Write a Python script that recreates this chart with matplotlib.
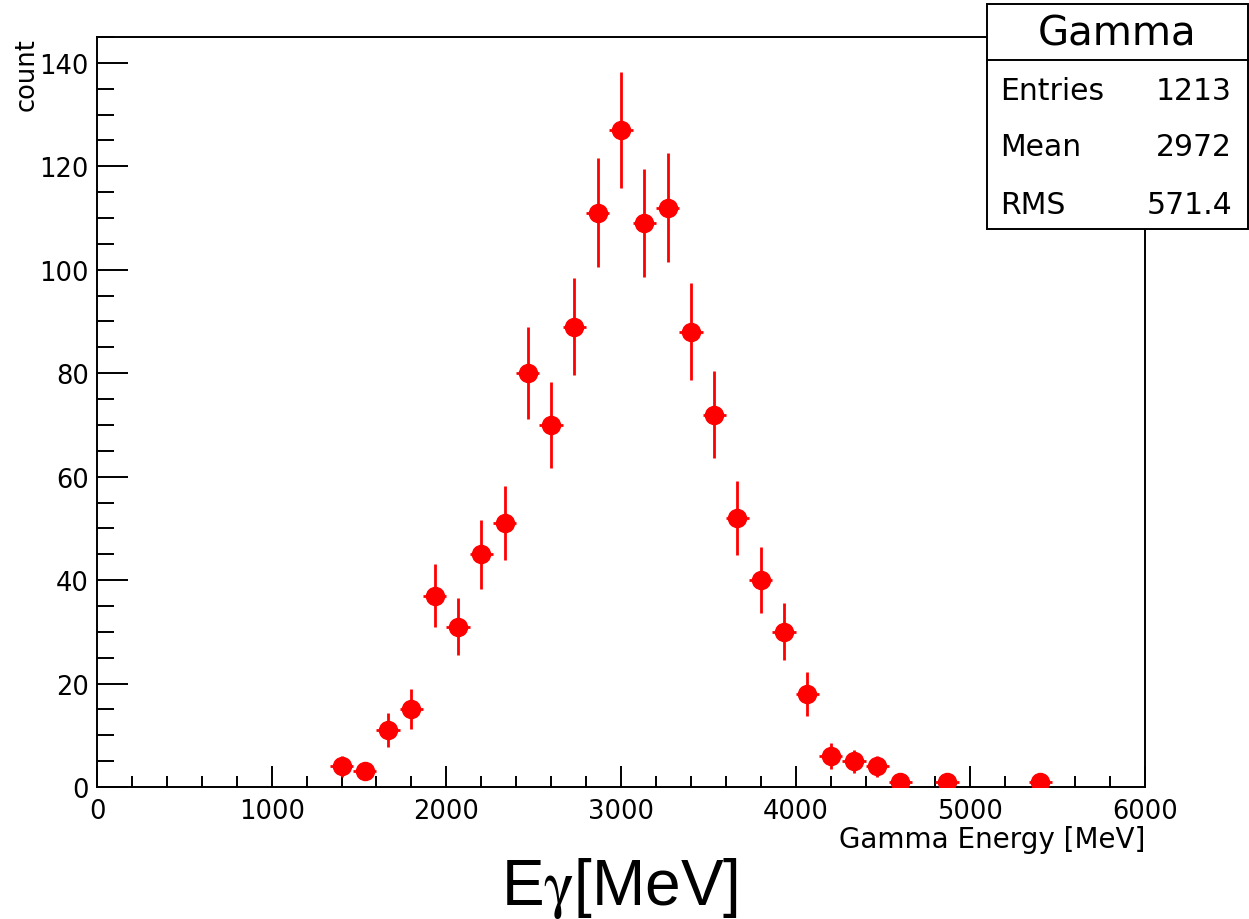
import matplotlib
matplotlib.use('Agg')
import matplotlib.pyplot as plt
from matplotlib.patches import Rectangle
from matplotlib.ticker import MultipleLocator
import numpy as np

plt.rcParams['font.family'] = ['DejaVu Sans']
plt.rcParams['mathtext.fontset'] = 'stix'

# histogram "Gamma": 45 bins from 0 to 6000 MeV
x_lo, x_hi, n_bins = 0, 6000, 45
counts = [0, 0, 0, 0, 0, 0, 0, 0, 0, 0,
          4, 3, 11, 15, 37, 31, 45, 51, 80, 70,
          89, 111, 127, 109, 112, 88, 72, 52, 40, 30,
          18, 6, 5, 4, 1, 0, 1, 0, 0, 0,
          1, 0, 0, 0, 0]

stat_title = 'Gamma'
stat_names = ['Entries', 'Mean', 'RMS']
stat_values = ['1213', '2972', '571.4']

edges = np.linspace(x_lo, x_hi, n_bins + 1)
centers = 0.5 * (edges[:-1] + edges[1:])
width = edges[1] - edges[0]
y = np.array(counts, dtype=float)
keep = y > 0

fig = plt.figure(figsize=(12.49, 9.20), dpi=100, facecolor='w')
ax = fig.add_axes([97 / 1249, 1 - 788 / 920, (1145 - 97) / 1249, (788 - 38) / 920])

ax.errorbar(centers[keep], y[keep], yerr=np.sqrt(y[keep]), xerr=width / 2,
            fmt='o', color='#ff0000', ms=13, elinewidth=2, capsize=0, zorder=3)

ax.set_xlim(x_lo, x_hi)
ax.set_ylim(0, 145)
ax.xaxis.set_major_locator(MultipleLocator(1000))
ax.xaxis.set_minor_locator(MultipleLocator(200))
ax.yaxis.set_major_locator(MultipleLocator(20))
ax.yaxis.set_minor_locator(MultipleLocator(5))
ax.tick_params(axis='x', which='major', direction='in', length=15, width=1.4,
               labelsize=18.5, pad=8)
ax.tick_params(axis='x', which='minor', direction='in', length=8, width=1.4)
ax.tick_params(axis='y', which='major', direction='in', length=22, width=1.4,
               labelsize=18.5, pad=6)
ax.tick_params(axis='y', which='minor', direction='in', length=12, width=1.4)
for s in ax.spines.values():
    s.set_linewidth(1.4)

ax.set_xlabel('Gamma Energy [MeV]', fontsize=20, loc='right', labelpad=1)
ax.set_ylabel('count', fontsize=18.5, loc='top', labelpad=0)

fig.text(620 / 1249, 1 - 905 / 920, r'E$\mathrm{\gamma}$[MeV]', fontsize=46,
         family='Liberation Sans', ha='center', va='baseline')

# stats box
bx0, bx1, by0, by1, bdiv = 987, 1248, 5, 230, 61
fig.patches.append(Rectangle((bx0 / 1249, 1 - by1 / 920), (bx1 - bx0) / 1249,
                             (by1 - by0) / 920, transform=fig.transFigure,
                             facecolor='w', edgecolor='k', lw=1.4, zorder=5))
fig.add_artist(plt.Line2D([bx0 / 1249, bx1 / 1249], [1 - bdiv / 920] * 2,
                          transform=fig.transFigure, color='k', lw=1.4, zorder=6))
fig.text((bx0 + bx1) / 2 / 1249, 1 - 35 / 920, stat_title, fontsize=29,
         ha='center', va='center', zorder=7)
for i, (name, val) in enumerate(zip(stat_names, stat_values)):
    yy = 1 - (91 + 57 * i) / 920
    fig.text(1000 / 1249, yy, name, fontsize=21.5, ha='left', va='center', zorder=7)
    fig.text(1232 / 1249, yy, val, fontsize=21.5, ha='right', va='center', zorder=7)

fig.savefig('out.png', dpi=100, facecolor='w')
